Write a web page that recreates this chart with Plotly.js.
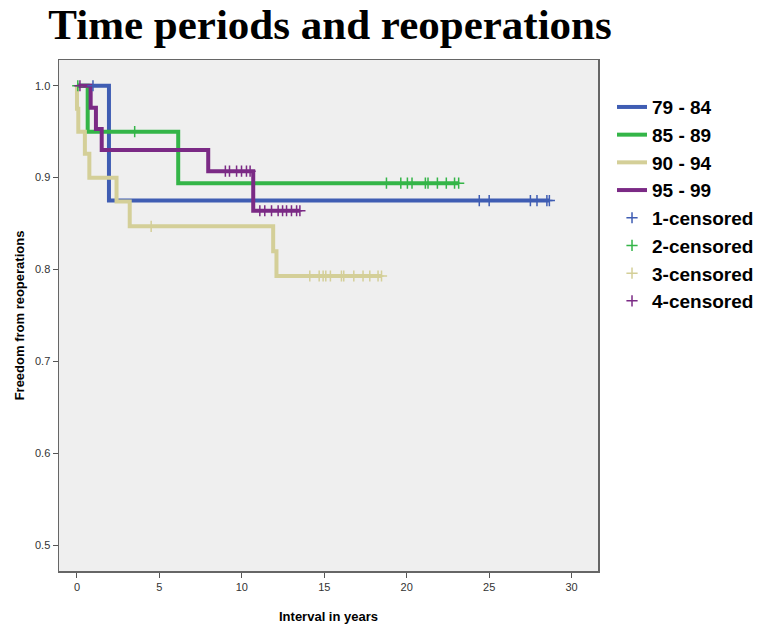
<!DOCTYPE html>
<html>
<head>
<meta charset="utf-8">
<script src="https://cdn.plot.ly/plotly-3.0.1.min.js"></script>
<style>
  body { margin: 0; background: #fff; }
  #chart { width: 764px; height: 626px; }
</style>
</head>
<body>
<div id="chart"></div>
<script>
// step curves: time (years) and freedom from reoperation
var groupNames = ['79 - 84', '85 - 89', '90 - 94', '95 - 99'];
var groupColors = ['#3f5db3', '#34b548', '#d4cf98', '#7b2a85'];

var t1 = [0, 1.94, 28.67];
var s1 = [1.0, 0.875, 0.875];
var t2 = [0, 0.65, 6.14, 23.17];
var s2 = [1.0, 0.95, 0.894, 0.894];
var t3 = [0, 0, 0.08, 0.48, 0.75, 2.4, 3.2, 11.9, 12.1, 18.47];
var s3 = [1.0, 0.975, 0.95, 0.926, 0.90, 0.874, 0.847, 0.82, 0.793, 0.793];
var t4 = [0, 0.83, 1.15, 1.5, 7.96, 10.69, 13.52];
var s4 = [1.0, 0.976, 0.953, 0.930, 0.907, 0.864, 0.864];

// censored cases (time in years)
var c1 = [0.97, 24.4, 25.0, 27.5, 27.9, 28.5, 28.65];
var c2 = [0.05, 3.5, 18.77, 19.64, 20.04, 20.32, 21.13, 21.29, 21.86, 22.4, 22.9, 23.15];
var c3 = [4.5, 14.12, 14.69, 14.93, 15.09, 15.37, 16.04, 16.18, 16.79, 17.35, 17.76, 18.26, 18.47];
var c4 = [0.18, 9.0, 9.25, 9.68, 9.98, 10.28, 10.5, 11.09, 11.39, 11.8, 12.2, 12.47, 12.71, 13.01, 13.32, 13.52];

var times = [t1, t2, t3, t4];
var surv = [s1, s2, s3, s4];
var cens = [c1, c2, c3, c4];

// value of the step curve at time x
function stepAt(t, s, x) {
    var v = s[0];
    for (var i = 0; i < t.length; i++) {
        if (t[i] <= x) v = s[i];
    }
    return v;
}

var data = [];

for (var g = 0; g < 4; g++) {
    data.push({
        x: times[g],
        y: surv[g],
        type: 'scatter',
        mode: 'lines',
        name: groupNames[g],
        line: { shape: 'hv', color: groupColors[g], width: 4 },
        hoverinfo: 'skip'
    });
}

for (var g = 0; g < 4; g++) {
    var cy = [];
    for (var k = 0; k < cens[g].length; k++) {
        cy.push(stepAt(times[g], surv[g], cens[g][k]));
    }
    data.push({
        x: cens[g],
        y: cy,
        type: 'scatter',
        mode: 'markers',
        name: (g + 1) + '-censored',
        marker: {
            symbol: 'cross-thin-open',
            size: 8,
            color: groupColors[g],
            line: { color: groupColors[g], width: 1.5 }
        },
        hoverinfo: 'skip'
    });
}

var layout = {
    width: 764,
    height: 626,
    margin: { l: 59, r: 166, t: 60, b: 55, autoexpand: false },
    paper_bgcolor: '#ffffff',
    plot_bgcolor: '#efefef',
    title: {
        text: '<b>Time periods and reoperations</b>',
        font: { family: 'Liberation Serif, Times New Roman, serif', size: 43, color: '#000' },
        x: 0.432, xanchor: 'center',
        y: 0.962, yanchor: 'middle'
    },
    xaxis: {
        range: [-1.09, 31.6],
        tickvals: [0, 5, 10, 15, 20, 25, 30],
        ticks: 'outside', ticklen: 5, tickcolor: '#555',
        showgrid: false, zeroline: false,
        showline: true, mirror: true, linecolor: '#666', linewidth: 1.5,
        tickfont: { family: 'Liberation Sans, Arial, sans-serif', size: 11, color: '#333' },
        title: {
            text: '<b>Interval in years</b>',
            font: { family: 'Liberation Sans, Arial, sans-serif', size: 13, color: '#000' },
            standoff: 20
        }
    },
    yaxis: {
        range: [0.472, 1.028],
        tickvals: [0.5, 0.6, 0.7, 0.8, 0.9, 1.0],
        tickformat: '.1f',
        ticks: 'outside', ticklen: 5, tickcolor: '#555',
        showgrid: false, zeroline: false,
        showline: true, mirror: true, linecolor: '#666', linewidth: 1.5,
        tickfont: { family: 'Liberation Sans, Arial, sans-serif', size: 11, color: '#333' },
        title: {
            text: '<b>Freedom from reoperations</b>',
            font: { family: 'Liberation Sans, Arial, sans-serif', size: 13, color: '#000' },
            standoff: 7
        }
    },
    legend: {
        x: 1.026, xanchor: 'left',
        y: 0.945, yanchor: 'top',
        bgcolor: 'rgba(0,0,0,0)',
        tracegroupgap: 0,
        font: { family: 'Liberation Sans, Arial, sans-serif', size: 19, color: '#000', weight: 'bold' }
    },
    showlegend: true
};

Plotly.newPlot('chart', data, layout, { displayModeBar: false, staticPlot: true });
</script>
</body>
</html>
